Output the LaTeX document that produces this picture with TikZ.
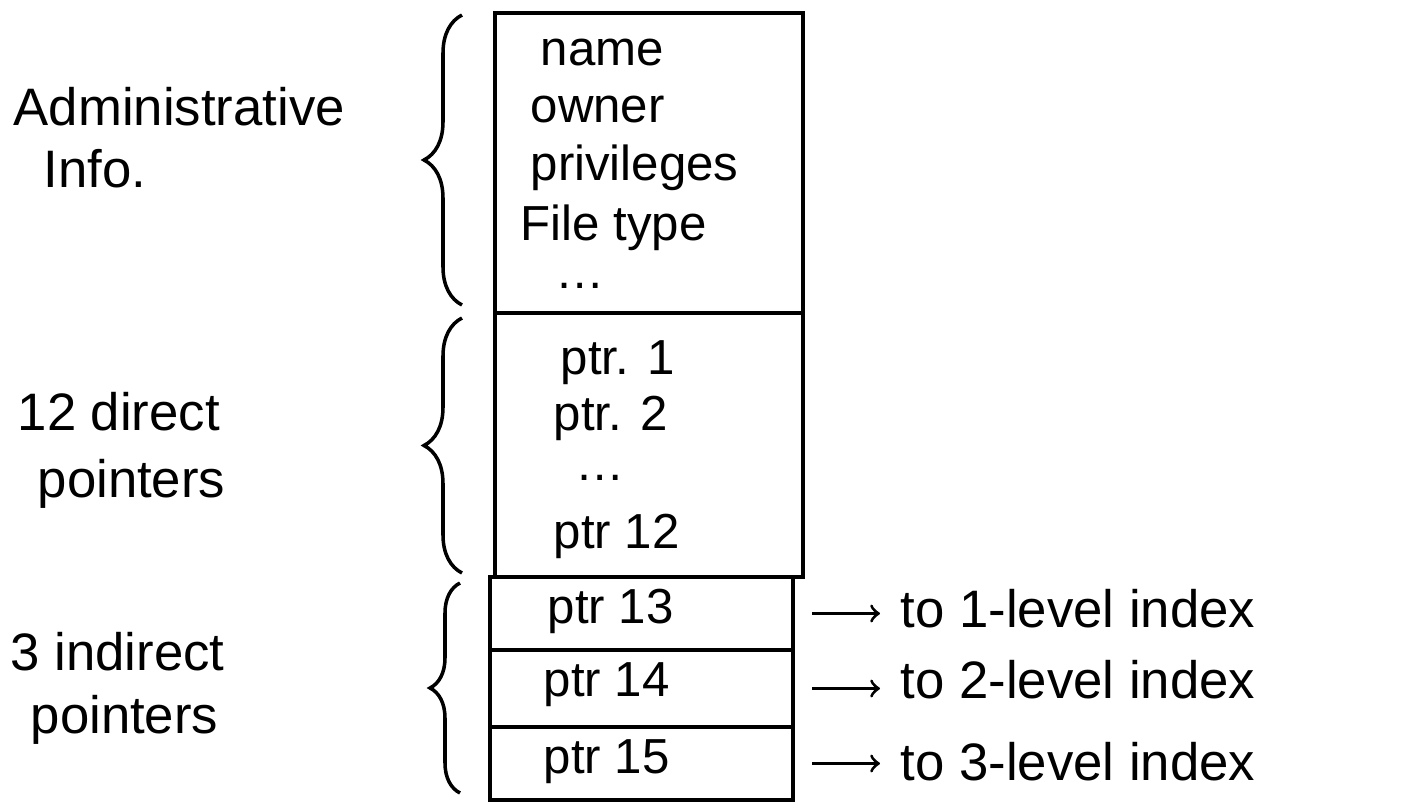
\documentclass[tikz,border=0pt]{standalone}
\usepackage{fontspec}
\setmainfont{Liberation Sans}
\usetikzlibrary{decorations.pathreplacing}

\tikzset{
  cell/.style={draw, line width=1.3pt, inner sep=0pt},
  field/.style={anchor=base west, inner sep=0pt, font=\fontsize{14}{17}\selectfont},
  side/.style={anchor=base west, inner sep=0pt, font=\fontsize{15}{18}\selectfont},
  dest/.style={anchor=base west, inner xsep=2mm, inner ysep=0pt, font=\fontsize{15}{18}\selectfont},
  curly/.style={decorate, decoration={brace, amplitude=#1}, line width=1pt},
  ptr/.style={->, line width=0.9pt}
}

\begin{document}
\begin{tikzpicture}
      \useasboundingbox (0,0) rectangle (14.10,-8.05);

      \node[cell, minimum width=3.08cm, minimum height=3.00cm] (admin) at (6.49,-1.63) {};
      \node[cell, minimum width=3.08cm, minimum height=2.64cm] (direct) at (6.49,-4.45) {};
      \node[cell, minimum width=3.03cm, minimum height=0.73cm] (p13) at (6.415,-6.135) {};
      \node[cell, minimum width=3.03cm, minimum height=0.77cm] (p14) at (6.415,-6.885) {};
      \node[cell, minimum width=3.03cm, minimum height=0.73cm] (p15) at (6.415,-7.635) {};

      \node[field] (name) at (5.40,-0.65) {name};
      \node[field] (owner) at (5.30,-1.22) {owner};
      \node[field] (priv) at (5.30,-1.80) {privileges};
      \node[field] (ftype) at (5.20,-2.40) {File type};
      \node[field] (adots) at (5.55,-2.88) {\dots};

      \node[field] (d1) at (5.60,-3.74) {ptr. 1};
      \node[field] (d2) at (5.53,-4.30) {ptr. 2};
      \node[field] (ddots) at (5.75,-4.80) {\dots};
      \node[field] (d12) at (5.53,-5.48) {ptr 12};

      \node[field] (l13) at (5.47,-6.23) {ptr 13};
      \node[field] (l14) at (5.43,-6.96) {ptr 14};
      \node[field] (l15) at (5.43,-7.73) {ptr 15};

      \node[dest] (t13) at (8.80,-6.27) {to 1-level index};
      \node[dest] (t14) at (8.80,-6.98) {to 2-level index};
      \node[dest] (t15) at (8.80,-7.80) {to 3-level index};

      \node[side] (adm1) at (0.13,-1.25) {Administrative};
      \node[side] (adm2) at (0.43,-1.87) {Info.};
      \node[side] (dir1) at (0.17,-4.30) {12 direct};
      \node[side] (dir2) at (0.37,-4.97) {pointers};
      \node[side] (ind1) at (0.10,-6.70) {3 indirect};
      \node[side] (ind2) at (0.30,-7.33) {pointers};

      \draw[curly=0.38cm] (4.62,-3.05) -- (4.62,-0.15);
      \draw[curly=0.38cm] (4.62,-5.73) -- (4.62,-3.18);
      \draw[curly=0.30cm] (4.60,-7.93) -- (4.60,-5.83);

      \draw[ptr] ([xshift=1.7mm]p13.east) -- (p13.east -| t13.west);
      \draw[ptr] ([xshift=1.7mm]p14.east) -- (p14.east -| t14.west);
      \draw[ptr] ([xshift=1.7mm]p15.east) -- (p15.east -| t15.west);
\end{tikzpicture}
\end{document}
